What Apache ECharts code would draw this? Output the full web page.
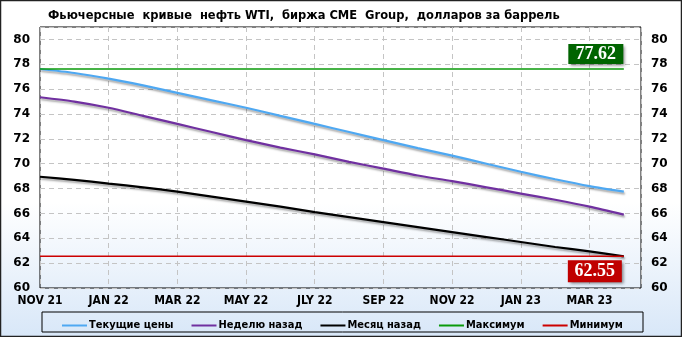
<!DOCTYPE html>
<html>
<head>
<meta charset="utf-8">
<script src="https://cdn.jsdelivr.net/npm/echarts@6/dist/echarts.min.js"></script>
<style>
  html, body { margin: 0; padding: 0; }
  #chart { width: 682px; height: 337px; }
</style>
</head>
<body>
<div id="chart"></div>
<script>
  // месяцы: NOV 21 ... APR 23 (индекс 0..17)
  var tickLabels = ['NOV 21', 'JAN 22', 'MAR 22', 'MAY 22', 'JLY 22', 'SEP 22', 'NOV 22', 'JAN 23', 'MAR 23'];
  var current = [77.62, 77.3, 76.85, 76.3, 75.7, 75.1, 74.5, 73.85, 73.2, 72.55, 71.9, 71.25, 70.65, 70.0, 69.35, 68.75, 68.2, 67.75];
  var weekAgo = [75.35, 75.0, 74.5, 73.85, 73.2, 72.55, 71.9, 71.3, 70.75, 70.15, 69.6, 69.05, 68.6, 68.1, 67.6, 67.1, 66.55, 65.9];
  var monthAgo = [68.95, 68.7, 68.4, 68.1, 67.75, 67.35, 66.95, 66.55, 66.1, 65.7, 65.3, 64.9, 64.5, 64.1, 63.7, 63.3, 62.95, 62.55];
  var seriesNames = ['Текущие цены', 'Неделю назад', 'Месяц назад', 'Максимум', 'Минимум'];

  var allVals = current.concat(weekAgo, monthAgo);
  var maxVal = Math.max.apply(null, allVals);
  var minVal = Math.min.apply(null, allVals);
  var lastIdx = current.length - 1;

  function pairs(arr) {
    return arr.map(function (v, i) { return [i, v]; });
  }

  var font = 'DejaVu Sans Condensed';
  var shadow = { shadowColor: 'rgba(0,0,0,0.35)', shadowBlur: 2, shadowOffsetX: 1, shadowOffsetY: 2 };

  function lineSeries(name, data, color, width, extra) {
    var s = {
      name: name,
      type: 'line',
      data: data,
      showSymbol: false,
      symbol: 'none',
      smooth: 0.25,
      lineStyle: Object.assign({ color: color, width: width }, width > 1.5 ? shadow : {}),
      itemStyle: { color: color },
      emphasis: { disabled: true }
    };
    return Object.assign(s, extra || {});
  }

  function valueBox(value, color, offset, size) {
    return {
      symbol: 'rect',
      symbolSize: size,
      symbolOffset: offset,
      itemStyle: { color: color, shadowColor: 'rgba(0,0,0,0.45)', shadowBlur: 3, shadowOffsetX: 2, shadowOffsetY: 2 },
      label: {
        show: true,
        position: 'inside',
        color: '#fff',
        fontFamily: 'Liberation Serif',
        fontWeight: 'bold',
        fontSize: 18
      },
      data: [{ coord: [lastIdx, value], value: value.toFixed(2) }]
    };
  }

  var yAxisBase = {
    type: 'value',
    min: 60,
    max: 81,
    interval: 2,
    axisLine: { show: false },
    axisTick: { show: false },
    axisLabel: { color: '#000', fontFamily: 'DejaVu Sans', fontWeight: 'bold', fontSize: 12, margin: 10, showMaxLabel: false }
  };

  var option = {
    animation: false,
    backgroundColor: {
      type: 'linear', x: 0, y: 0, x2: 0, y2: 1,
      colorStops: [{ offset: 0, color: '#ffffff' }, { offset: 0.6, color: '#ffffff' }, { offset: 1, color: '#d8e7f8' }]
    },
    title: {
      text: 'Фьючерсные  кривые  нефть WTI,  биржа CME  Group,  долларов за баррель',
      left: 43,
      top: 4,
      textStyle: { fontFamily: font, fontWeight: 'bold', fontSize: 12.75, color: '#000' }
    },
    grid: {
      left: 40, right: 41, top: 27, bottom: 49,
      show: true,
      borderColor: '#000',
      borderWidth: 1
    },
    legend: {
      left: 57,
      top: 315,
      itemGap: 18,
      itemWidth: 25,
      itemHeight: 2,
      icon: 'rect',
      textStyle: { fontFamily: font, fontWeight: 'bold', fontSize: 11, color: '#000', padding: [0, 0, 0, -3] },
      data: seriesNames
    },
    xAxis: {
      type: 'value',
      min: 0,
      max: 17.5,
      interval: 2,
      axisLine: { show: false },
      axisTick: { show: false },
      axisLabel: {
        color: '#000', fontFamily: font, fontWeight: 'bold', fontSize: 12, margin: 7, showMaxLabel: false,
        formatter: function (v) { return tickLabels[v / 2] || ''; }
      },
      splitLine: { show: true, lineStyle: { color: '#c4c4c4', type: [5, 4] } }
    },
    yAxis: [
      Object.assign({}, yAxisBase, {
        position: 'left',
        splitLine: { show: true, lineStyle: { color: '#c4c4c4', type: [5, 4] } }
      }),
      Object.assign({}, yAxisBase, {
        position: 'right',
        splitLine: { show: false }
      })
    ],
    graphic: [
      { type: 'rect', shape: { x: 42, y: 312, width: 601, height: 20 }, style: { fill: 'none', stroke: '#000', lineWidth: 1 }, z: 10 },
      { type: 'rect', shape: { x: 0.5, y: 0.5, width: 681, height: 336 }, style: { fill: 'none', stroke: '#222', lineWidth: 1.5 }, z: 10 }
    ],
    series: [
      lineSeries(seriesNames[0], pairs(current), '#4ea8f2', 2.2),
      lineSeries(seriesNames[1], pairs(weekAgo), '#7030a0', 2.2),
      lineSeries(seriesNames[2], pairs(monthAgo), '#000000', 2.2),
      lineSeries(seriesNames[3], [[0, maxVal], [lastIdx, maxVal]], '#0a9a0a', 1.4, {
        smooth: false,
        markPoint: valueBox(maxVal, '#006400', [-28, -15], [55, 20])
      }),
      lineSeries(seriesNames[4], [[0, minVal], [lastIdx, minVal]], '#cc0000', 1.4, {
        smooth: false,
        markPoint: valueBox(minVal, '#c00000', [-29, 15], [54, 22])
      })
    ]
  };

  var chart = echarts.init(document.getElementById('chart'));
  chart.setOption(option);
  window.addEventListener('resize', function () { chart.resize(); });
</script>
</body>
</html>
